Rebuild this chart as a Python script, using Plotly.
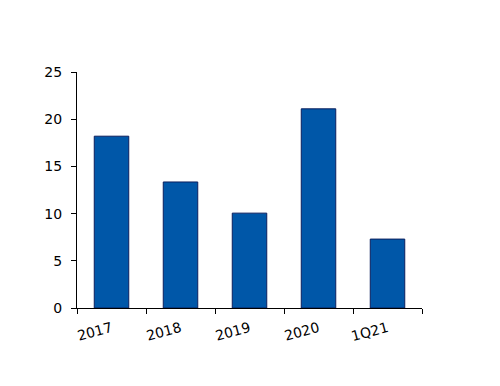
import plotly.graph_objects as go

categories = ["2017", "2018", "2019", "2020", "1Q21"]
values = [18.2, 13.35, 10.05, 21.1, 7.3]
y_ticks = [0, 5, 10, 15, 20, 25]

fig = go.Figure(go.Bar(
    x=categories, y=values,
    marker=dict(color="#0057A8", line=dict(color="#0B1F5E", width=1)),
    width=0.5,
))
font = dict(family="DejaVu Sans", size=14, color="#000000")
fig.update_layout(
    width=500, height=386,
    margin=dict(l=69, r=86, t=64, b=86, autoexpand=False),
    plot_bgcolor="white", paper_bgcolor="white",
    showlegend=False, font=font,
    xaxis=dict(type="category", range=[-0.5, 4.5], tickson="boundaries",
               ticks="outside", ticklen=5, tickcolor="#000", showline=True,
               linecolor="#000", linewidth=1, showgrid=False, tickangle=-15,
               tickfont=font, automargin=False, ticklabelstandoff=6),
    yaxis=dict(range=[0, 25], tickvals=y_ticks, ticks="outside", ticklen=5,
               tickcolor="#000", showline=True, linecolor="#000", linewidth=1,
               showgrid=False, zeroline=False, tickfont=font, automargin=False,
               ticklabelstandoff=6),
)
fig.write_html("out.html")
